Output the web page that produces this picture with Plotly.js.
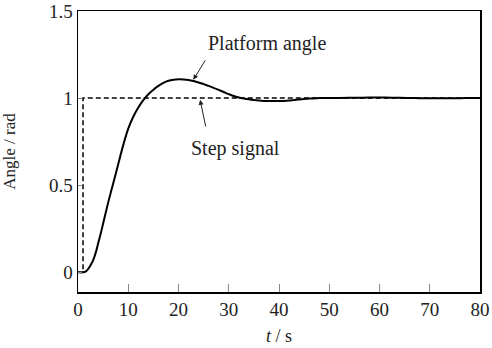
<!DOCTYPE html>
<html>
<head>
<meta charset="utf-8">
<script src="https://cdn.plot.ly/plotly-3.0.1.min.js"></script>
<style>html,body{margin:0;padding:0;background:#fff;}#chart{width:492px;height:348px;}</style>
</head>
<body>
<div id="chart"></div>
<script>
// Platform angle response (t in s, angle in rad)
const platformT = [0, 1, 1.5, 2, 2.5, 3, 3.5, 4, 4.5, 5, 5.5, 6, 7, 8, 9, 10, 11, 12, 13, 14, 15, 16, 17, 18, 19, 20, 21, 22, 23, 24, 25, 26, 27, 28, 29, 30, 31, 32, 33, 34, 35, 36, 37, 38, 39, 40, 41, 42, 43, 44, 45, 46, 48, 50, 52, 55, 58, 61, 64, 67, 70, 74, 77, 80];
const platformY = [0, 0, 0.004, 0.018, 0.04, 0.068, 0.11, 0.165, 0.22, 0.28, 0.34, 0.4, 0.51, 0.62, 0.73, 0.825, 0.893, 0.946, 0.988, 1.022, 1.048, 1.07, 1.088, 1.1, 1.106, 1.108, 1.107, 1.104, 1.098, 1.09, 1.08, 1.07, 1.059, 1.047, 1.035, 1.023, 1.012, 1.004, 0.998, 0.993, 0.989, 0.986, 0.984, 0.983, 0.983, 0.983, 0.984, 0.986, 0.989, 0.992, 0.995, 0.998, 1.0, 1.001, 1.001, 1.002, 1.003, 1.003, 1.002, 1.0, 0.999, 0.999, 1.0, 1.0];
// Step signal
const stepT = [0, 1, 1, 80];
const stepY = [0, 0, 1, 1];
// Ticks
const xTickVals = [0, 10, 20, 30, 40, 50, 60, 70, 80];
const yTickVals = [0, 0.5, 1, 1.5];
const yTickText = ['0', '0.5', '1', '1.5'];
// Labels
const labelPlatform = 'Platform angle';
const labelStep = 'Step signal';

const serif = "'Liberation Serif', serif";

const traces = [
  {x: stepT, y: stepY, mode: 'lines', line: {color: '#000', width: 1.5, dash: '5px,3px'}, hoverinfo: 'skip', name: labelStep},
  {x: platformT, y: platformY, mode: 'lines', line: {color: '#000', width: 2, shape: 'spline', smoothing: 1}, hoverinfo: 'skip', name: labelPlatform}
];

const layout = {
  width: 492, height: 348,
  margin: {l: 78, r: 12, t: 11, b: 56},
  paper_bgcolor: '#fff', plot_bgcolor: '#fff',
  showlegend: false,
  font: {family: serif, color: '#222', size: 18},
  xaxis: {
    range: [0, 80], tickvals: xTickVals, ticks: 'inside', ticklen: 8, tickcolor: '#888', tickwidth: 1,
    showline: true, linecolor: '#000', linewidth: 1.5, mirror: true, showgrid: false, zeroline: false,
    tickfont: {family: serif, size: 19, color: '#222'},
    title: {text: '<i>t</i> / s', font: {family: serif, size: 18, color: '#222'}, standoff: 10}
  },
  yaxis: {
    range: [-0.113, 1.5], tickvals: yTickVals, ticktext: yTickText, ticks: 'inside', ticklen: 4, tickcolor: '#888',
    showline: true, linecolor: '#000', linewidth: 1.5, mirror: true, showgrid: false, zeroline: false,
    tickfont: {family: serif, size: 19, color: '#222'},
    title: {text: 'Angle / rad', font: {family: serif, size: 17, color: '#222'}, standoff: 30}
  },
  annotations: [
    {x: 37.55, y: 1.312, xref: 'x', yref: 'y', text: labelPlatform, showarrow: false, font: {family: serif, size: 20, color: '#222'}},
    {x: 22.95, y: 1.105, xref: 'x', yref: 'y', text: ' ', showarrow: true, ax: 16, ay: -26, arrowhead: 2, arrowsize: 1, arrowwidth: 1, arrowcolor: '#222', standoff: 0},
    {x: 31.4, y: 0.71, xref: 'x', yref: 'y', text: labelStep, showarrow: false, font: {family: serif, size: 20, color: '#222'}},
    {x: 24.3, y: 0.99, xref: 'x', yref: 'y', text: ' ', showarrow: true, ax: 8, ay: 38, arrowhead: 2, arrowsize: 1, arrowwidth: 1, arrowcolor: '#222', standoff: 0}
  ]
};

Plotly.newPlot('chart', traces, layout, {staticPlot: true, displayModeBar: false});
</script>
</body>
</html>
